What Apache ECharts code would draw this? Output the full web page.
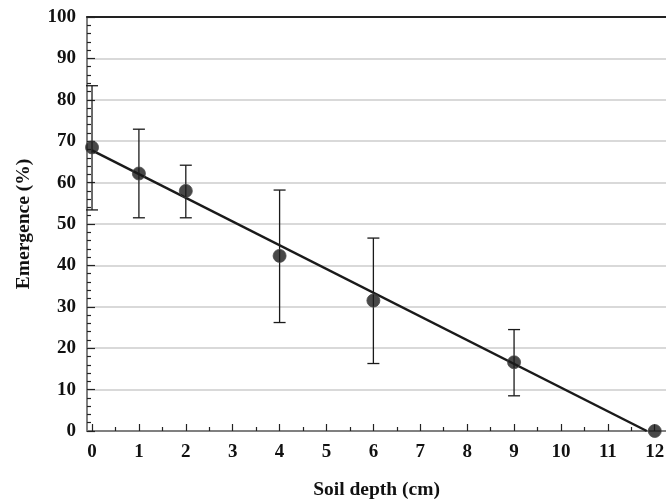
<!DOCTYPE html>
<html><head><meta charset="utf-8">
<script src="https://cdn.jsdelivr.net/npm/echarts@6/dist/echarts.min.js"></script>
<style>html,body{margin:0;padding:0;background:#fff}#c{width:666px;height:499px}</style>
</head><body><div id="c"></div>
<script>
const depths = [0, 1, 2, 4, 6, 9, 12];
const emergence = [68.5, 62.2, 58.0, 42.3, 31.5, 16.6, 0];
const errLow = [53.4, 51.5, 51.5, 26.2, 16.3, 8.5, null];
const errHigh = [83.4, 72.9, 64.2, 58.2, 46.6, 24.5, null];
const fitX = [0, 11.83];
const fitY = [67.8, 0];
const xTickLabels = ['0','1','2','3','4','5','6','7','8','9','10','11','12'];
const xMinorTicks = [0.5,1.5,2.5,3.5,4.5,5.5,6.5,7.5,8.5,9.5,10.5,11.5];

const FONT = 'Liberation Serif';
const chart = echarts.init(document.getElementById('c'));
const pts = depths.map((d,i)=>[d, emergence[i]]);
const errData = [];
depths.forEach((d,i)=>{ if (errLow[i]!=null) errData.push([d, errLow[i], errHigh[i]]); });
const fitData = fitX.map((x,i)=>[x, fitY[i]]);
const xMajor = xTickLabels.map(Number);

chart.setOption({
  animation: false,
  grid: {left: 87, right: 0, top: 17, bottom: 68, outerBoundsMode: 'none', containLabel: false},
  xAxis: [
    {type:'value', min:-0.107, max:12.24, position:'bottom',
     name:'Soil depth (cm)', nameLocation:'middle', nameGap:49,
     nameTextStyle:{fontFamily:FONT, fontWeight:'bold', fontSize:19.5, color:'#111'},
     axisLine:{show:true, onZero:false, lineStyle:{color:'#808080', width:2}},
     axisTick:{show:true, inside:true, length:7, customValues:xMajor, lineStyle:{color:'#222', width:1.2}},
     axisLabel:{customValues:xMajor, formatter:v=>String(Math.round(v)), margin:12, fontFamily:FONT, fontWeight:'bold', fontSize:19, color:'#111'},
     splitLine:{show:false}},
    {type:'value', min:-0.107, max:12.24, position:'bottom',
     axisLine:{show:false, onZero:false},
     axisTick:{show:true, inside:true, length:4, customValues:xMinorTicks, lineStyle:{color:'#222', width:1.2}},
     axisLabel:{show:false}, splitLine:{show:false}},
    {type:'value', min:-0.107, max:12.24, position:'top',
     axisLine:{show:true, onZero:false, lineStyle:{color:'#222', width:2}},
     axisTick:{show:false}, axisLabel:{show:false}, splitLine:{show:false}}
  ],
  yAxis: {type:'value', min:0, max:100, interval:10,
    name:'Emergence (%)', nameLocation:'middle', nameGap:53,
    nameTextStyle:{fontFamily:FONT, fontWeight:'bold', fontSize:19.5, color:'#111'},
    axisLine:{show:true, onZero:false, lineStyle:{color:'#808080', width:2}},
    axisTick:{show:true, inside:true, length:8, lineStyle:{color:'#222', width:1.2}},
    minorTick:{show:true, splitNumber:5, length:4, lineStyle:{color:'#222', width:1.2}},
    axisLabel:{margin:11, fontFamily:FONT, fontWeight:'bold', fontSize:19, color:'#111'},
    splitLine:{show:true, lineStyle:{color:'#cccccc', width:1.5}}},
  series: [
    {type:'line', data:fitData, xAxisIndex:0, showSymbol:false, symbol:'none',
     lineStyle:{color:'#1a1a1a', width:2.5}, z:3},
    {type:'custom', xAxisIndex:0, data:errData, z:4, clip:false,
     renderItem:function(params, api){
       const x = api.value(0);
       const lo = api.coord([x, api.value(1)]);
       const hi = api.coord([x, api.value(2)]);
       const w = 6;
       const st = {stroke:'#1a1a1a', lineWidth:1.3};
       return {type:'group', children:[
         {type:'line', shape:{x1:lo[0], y1:lo[1], x2:hi[0], y2:hi[1]}, style:st},
         {type:'line', shape:{x1:lo[0]-w, y1:lo[1], x2:lo[0]+w, y2:lo[1]}, style:st},
         {type:'line', shape:{x1:hi[0]-w, y1:hi[1], x2:hi[0]+w, y2:hi[1]}, style:st}
       ]};
     }},
    {type:'scatter', xAxisIndex:0, data:pts, symbol:'circle', symbolSize:13, clip:false, z:5,
     itemStyle:{color:'#1a1a1a', borderColor:'#4a4a4a', borderWidth:1}}
  ]
});
</script></body></html>
